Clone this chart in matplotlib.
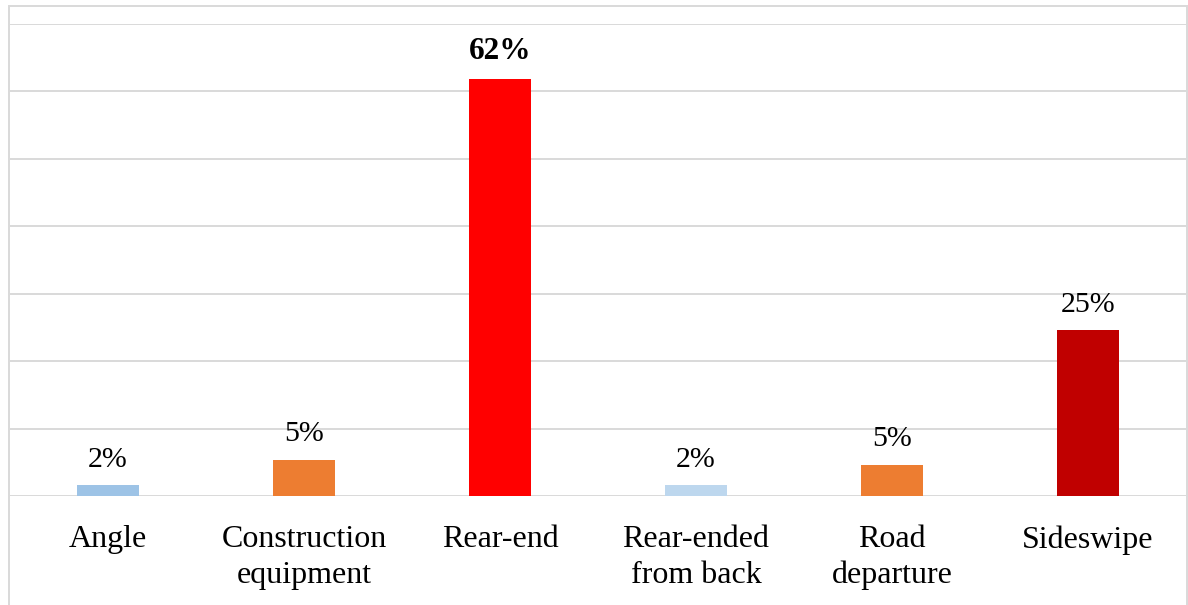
import matplotlib.pyplot as plt
from matplotlib.patches import Rectangle

# Crash types and shares (percent)
categories = ['Angle', 'Construction\nequipment', 'Rear-end',
              'Rear-ended\nfrom back', 'Road\ndeparture', 'Sideswipe']
values = [1.6, 5.4, 61.9, 1.6, 4.6, 24.6]
labels = ['2%', '5%', '62%', '2%', '5%', '25%']
colors = ['#9dc3e6', '#ed7d31', '#ff0000', '#bdd7ee', '#ed7d31', '#c00000']

plt.rcParams['font.family'] = ['Liberation Serif', 'DejaVu Serif']

fig = plt.figure(figsize=(11.88, 6.05), dpi=100)
ax = fig.add_axes([10 / 1188, 109 / 605, 1176 / 1188, 472 / 605])

x = range(len(categories))
bars = ax.bar(x, values, width=0.316, color=colors, zorder=3)

# Value labels above the bars, the biggest one in bold
for b, lab in zip(bars, labels):
    if lab == '62%':
        fs, weight = 22.5, 'bold'
    else:
        fs, weight = 21.5, 'normal'
    ax.annotate(lab, (b.get_x() + b.get_width() / 2, b.get_height()),
                xytext=(0, 9), textcoords='offset points',
                ha='center', va='bottom', fontsize=fs, fontweight=weight)

ax.set_xlim(-0.5, len(categories) - 0.5)
ax.set_ylim(0, 70)
ax.set_yticks(range(0, 71, 10))
ax.set_yticklabels([])
ax.set_xticks(list(x))
ax.set_xticklabels(categories, fontsize=23, linespacing=1.29)
ax.tick_params(axis='both', length=0)
ax.tick_params(axis='x', pad=21)

ax.grid(axis='y', color='#d9d9d9', lw=1.4, zorder=0)
for s in ax.spines.values():
    s.set_visible(False)

# Light chart-area border
fig.patches.append(Rectangle((8.5 / 1188, -0.05), 1178 / 1188, 1.05 - 6.5 / 605,
                             transform=fig.transFigure, fill=False,
                             edgecolor='#d9d9d9', lw=1.4))

fig.savefig('out.png', dpi=100)
